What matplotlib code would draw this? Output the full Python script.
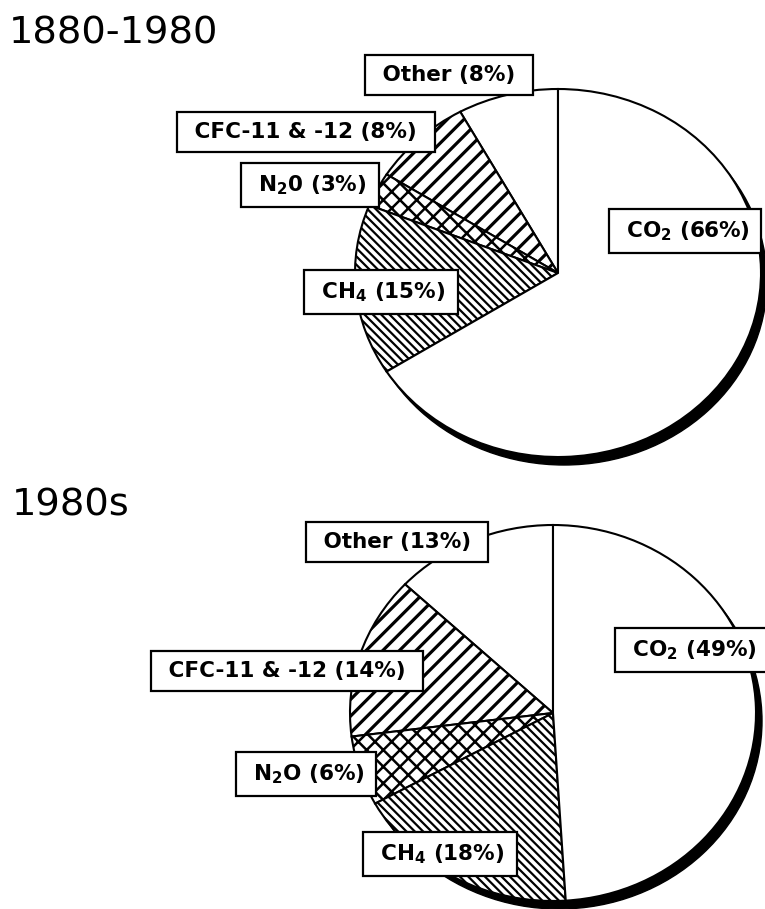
import numpy as np
import matplotlib
matplotlib.use('Agg')
import matplotlib.pyplot as plt
from matplotlib.patches import Ellipse

# slices go counter-clockwise from 12 o'clock
gases_1880 = ['Other', 'CFC-11 & -12', r'N$_\mathbf{2}$0', r'CH$_\mathbf{4}$', r'CO$_\mathbf{2}$']
gases_1980s = ['Other', 'CFC-11 & -12', r'N$_\mathbf{2}$O', r'CH$_\mathbf{4}$', r'CO$_\mathbf{2}$']
share_1880 = [8, 8, 3, 15, 66]
share_1980s = [13, 14, 6, 18, 49]
hatches = ['', '//', 'xx', '\\\\\\\\', '']
hatch_lw = [1.0, 2.3, 1.8, 1.6, 1.0]

W, H = 765, 909


def pie_axes(fig):
    ax = fig.add_axes([0, 0, 1, 1])
    ax.patch.set_alpha(0)
    return ax


def draw_pie(ax, shares, cx, cy, rx, ry, shadow=(6, 8)):
    # shadow ellipse, offset down-right
    sh = Ellipse((shadow[0] / rx, -shadow[1] / ry), 2, 2, color='black', zorder=1)
    ax.add_patch(sh)
    wedges, _ = ax.pie(shares, startangle=90, counterclock=True,
                       colors=['white'] * len(shares),
                       wedgeprops=dict(edgecolor='black', linewidth=1.5))
    for w, h, lw in zip(wedges, hatches, hatch_lw):
        w.set_zorder(2)
        w.set_hatch(h)
        if hasattr(w, 'set_hatch_linewidth'):
            w.set_hatch_linewidth(lw)
    # 1 data unit = rx px across, ry px down -> slightly flattened pie
    ax.set_aspect('auto')
    ax.set_xlim(-cx / rx, (W - cx) / rx)
    ax.set_ylim(-(H - cy) / ry, cy / ry)
    ax.set_axis_off()


def label(fig, px, py, text):
    fig.text(px / W, 1 - py / H, ' ' + text + ' ', ha='center', va='center',
             fontsize=15.5, fontweight='bold', family='DejaVu Sans', zorder=5,
             bbox=dict(boxstyle='square,pad=0.47', facecolor='white',
                       edgecolor='black', linewidth=1.6))


def main():
    fig = plt.figure(figsize=(W / 100, H / 100), dpi=100)

    ax1 = pie_axes(fig)
    draw_pie(ax1, share_1880, 558, 273, 203, 184)

    ax2 = pie_axes(fig)
    draw_pie(ax2, share_1980s, 553, 713, 203, 188)

    pos_1880 = [(449, 75), (306, 132), (310, 185), (381, 292), (685, 231)]
    pos_1980s = [(397, 542), (287, 671), (306, 774), (440, 854), (692, 650)]
    for (px, py), g, v in zip(pos_1880, gases_1880, share_1880):
        label(fig, px, py, f'{g} ({v}%)')
    for (px, py), g, v in zip(pos_1980s, gases_1980s, share_1980s):
        label(fig, px, py, f'{g} ({v}%)')

    fig.text(9 / W, 1 - 43 / H, '1880-1980', fontsize=27.7, va='baseline', family='DejaVu Sans')
    fig.text(12 / W, 1 - 515 / H, '1980s', fontsize=27.7, va='baseline', family='DejaVu Sans')

    fig.savefig('out.png', dpi=100)


if __name__ == "__main__":
    main()
